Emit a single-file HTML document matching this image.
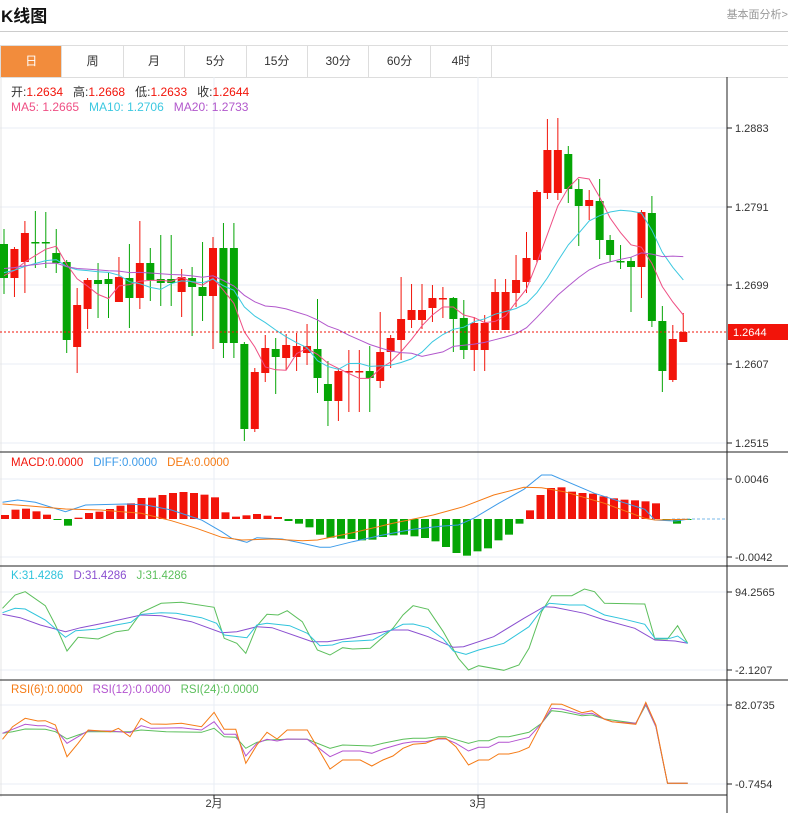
<!DOCTYPE html>
<html><head><meta charset="utf-8"><style>
body{margin:0;width:788px;height:813px;overflow:hidden;background:#fff;font-family:"Liberation Sans","Noto Sans CJK SC",sans-serif;}
#hd{position:absolute;left:1px;top:2px;font-size:17px;font-weight:bold;color:#111}
#jb{position:absolute;right:0;top:6px;font-size:11px;color:#999}
#ln{position:absolute;left:0;top:31px;width:788px;height:1px;background:#ccc}
#tabs{position:absolute;left:0;top:45px;width:787px;height:31px;border:1px solid #ddd;border-right:none;display:flex}
#tabs div{width:60.4px;border-right:1px solid #ddd;text-align:center;line-height:31px;font-size:12px;color:#333}
#tabs div.on{background:#f28c3c;color:#fff}
svg{position:absolute;left:0;top:0}
</style></head><body>
<div id="hd">K线图</div><div id="jb">基本面分析&gt;</div><div id="ln"></div>
<div id="tabs"><div class="on">日</div><div>周</div><div>月</div><div>5分</div><div>15分</div><div>30分</div><div>60分</div><div>4时</div></div>
<svg id="s" width="788" height="813" font-family="Liberation Sans,Noto Sans CJK SC,sans-serif" font-size="11"></svg>
<script>
var S=document.getElementById('s'),h='';
function L(x1,y1,x2,y2,c,w,d){h+='<line x1="'+x1+'" y1="'+y1+'" x2="'+x2+'" y2="'+y2+'" stroke="'+c+'" stroke-width="'+(w||1)+'"'+(d?' stroke-dasharray="'+d+'"':'')+'/>';}
function T(x,y,t,c,a){h+='<text x="'+x+'" y="'+y+'" fill="'+c+'"'+(a?' text-anchor="'+a+'"':'')+'>'+t+'</text>';}
function P(pts,c,sx,oy){var s=pts.map(function(p){return (p[0]/(sx||1)).toFixed(1)+','+(oy+p[1]/3).toFixed(1)}).join(' ');h+='<polyline points="'+s+'" fill="none" stroke="'+c+'" stroke-width="1"/>';}
// grids
[128,207,285,364,443,479,557,592,670,705,784].forEach(function(y){L(0,y,727,y,'#e8eef4');});
L(214,77,214,797,'#e8eef4');L(478,77,478,797,'#e8eef4');L(1,77,1,797,'#e4e4e4');
// panel separators
[452,566,680].forEach(function(y){L(0,y,788,y,'#222');});
L(0,795,727,795,'#222');L(727,77,727,813,'#222');
// candles [x,bodyTop,bodyBot,high,low,color r/g]
var C=[[244,278,229,294,'g'],[249,278,247,297,'r'],[233,262,221,293,'r'],[242,243,211,268,'g'],[242,243,212,268,'g'],[253,263,229,273,'g'],[262,340,260,353,'g'],[305,347,288,373,'r'],[280,309,278,329,'r'],[280,284,263,318,'g'],[279,284,273,318,'g'],[277,302,257,302,'r'],[278,298,244,328,'g'],[263,298,221,309,'r'],[263,280,248,301,'g'],[279,283,235,306,'g'],[279,283,235,306,'g'],[277,292,269,317,'r'],[278,287,267,336,'g'],[287,296,242,321,'g'],[248,296,237,349,'r'],[248,343,223,358,'g'],[248,343,223,358,'g'],[344,429,342,441,'g'],[372,429,368,432,'r'],[348,373,335,382,'r'],[349,357,338,394,'g'],[345,358,334,370,'r'],[346,357,333,371,'r'],[346,353,324,365,'r'],[349,378,299,393,'g'],[384,401,361,426,'g'],[371,401,368,421,'r'],[371,372,350,412,'r'],[371,372,350,412,'r'],[371,378,346,412,'g'],[352,381,312,388,'r'],[338,352,335,368,'r'],[319,340,277,360,'r'],[310,320,284,328,'r'],[310,320,284,329,'r'],[298,308,285,322,'r'],[298,299,287,318,'r'],[298,319,297,352,'g'],[318,350,300,359,'g'],[323,350,317,371,'r'],[323,350,315,371,'r'],[292,330,279,330,'r'],[292,330,279,330,'r'],[280,293,255,307,'r'],[258,282,232,293,'r'],[192,260,190,263,'r'],[150,193,119,199,'r'],[150,193,118,200,'r'],[154,189,146,203,'g'],[189,206,179,246,'g'],[200,206,190,220,'r'],[201,240,179,259,'g'],[240,255,235,262,'g'],[261,262,245,269,'g'],[261,267,257,312,'g'],[212,267,210,298,'r'],[213,321,196,327,'g'],[321,371,306,392,'g'],[339,380,325,382,'r'],[332,342,313,342,'r']];
var cl=[];
C.forEach(function(c,i){var x=4+i*10.45,col=c[4]=='r'?'#f2140a':'#05a505';
L(x,c[2],x,c[3],col);h+='<rect x="'+(x-4)+'" y="'+c[0]+'" width="8" height="'+Math.max(1.5,c[1]-c[0])+'" fill="'+col+'"/>';
cl.push(c[4]=='r'?c[0]:c[1]);});
function MA(n,col,seed){var pts=[];for(var i=0;i<cl.length;i++){var s=0,k=0;for(var j=i-n+1;j<=i;j++){s+=(j<0?seed:cl[j]);k++;}pts.push((4+i*10.45).toFixed(1)+','+(s/k).toFixed(1));}
h+='<polyline points="'+pts.join(' ')+'" fill="none" stroke="'+col+'" stroke-width="1"/>';}
MA(5,'#ef4f84',275);MA(10,'#3cc8e0',272);MA(20,'#b258cc',268);
// current price
L(0,332,727,332,'#f2140a',1,'2,2');
h+='<rect x="728" y="324" width="60" height="16" fill="#f2140a"/>';T(733,336,'1.2644','#fff');
// right axis labels
[[128,'1.2883'],[207,'1.2791'],[285,'1.2699'],[364,'1.2607'],[443,'1.2515'],[479,'0.0046'],[557,'-0.0042'],[592,'94.2565'],[670,'-2.1207'],[705,'82.0735'],[784,'-0.7454']].forEach(function(a){L(727,a[0],732,a[0],'#222');T(735,a[0]+4,a[1],'#333');});
// MACD bars
var M=[196,180,177,185,195,211,228,204,190,186,178,168,161,145,144,136,130,127,130,135,143,188,201,197,193,198,202,214,222,233,255,264,267,268,272,270,262,257,255,260,265,275,292,310,318,305,296,272,255,222,182,136,115,113,126,130,132,140,146,150,152,155,161,212,222,210];
M.forEach(function(z,i){var x=5+i*10.5,v=(208-z)/3,y0=519;var col=v>=0?'#f2140a':'#05a505';
h+='<rect x="'+(x-4)+'" y="'+(v>=0?y0-v:y0)+'" width="8" height="'+Math.max(1,Math.abs(v))+'" fill="'+col+'"/>';});
L(672,519,727,519,'#7ab8e8',1,'3,2');
var sx=1.985;
P([[5,157],[35,150],[70,157],[130,185],[170,165],[250,162],[290,165],[340,180],[400,210],[440,245],[460,265],[490,277],[510,263],[560,267],[600,280],[635,292],[655,292],[700,275],[760,255],[820,238],[880,228],[910,225],[940,205],[990,160],[1040,118],[1075,75],[1095,75],[1180,130],[1280,178],[1300,210],[1340,213],[1365,208]],'#3d9be9',sx,450);
P([[5,162],[60,168],[130,177],[200,180],[280,190],[340,212],[390,235],[440,262],[480,270],[540,267],[600,272],[630,270],[700,248],[780,220],[860,195],[920,170],[980,135],[1040,112],[1075,113],[1120,125],[1200,160],[1280,205],[1300,210],[1365,208]],'#f57a14',sx,450);
// KDJ
P([[5,130],[30,90],[50,80],[90,122],[110,180],[133,258],[155,217],[195,222],[230,200],[255,195],[280,143],[320,115],[360,112],[425,127],[445,220],[470,235],[488,265],[510,183],[530,148],[552,150],[570,137],[600,170],[630,255],[655,270],[680,248],[700,252],[735,250],[780,190],[800,150],[820,122],[850,133],[880,200],[910,280],[930,315],[950,302],[1000,316],[1030,300],[1050,250],[1075,140],[1095,92],[1135,92],[1160,72],[1180,80],[1200,115],[1280,117],[1300,222],[1325,222],[1345,182],[1365,235]],'#5cbf5c',sx,565);
P([[5,148],[40,158],[80,180],[130,200],[160,188],[220,170],[280,150],[320,152],[380,170],[440,203],[470,200],[510,185],[540,188],[620,230],[650,230],[700,218],[780,195],[810,195],[850,215],[900,247],[920,245],[980,215],[1040,160],[1080,125],[1100,127],[1160,145],[1200,165],[1260,190],[1300,225],[1340,228],[1365,235]],'#8a4fd0',sx,565);
P([[5,143],[30,130],[50,132],[90,165],[130,217],[150,197],[190,193],[230,180],[260,172],[280,148],[320,143],[350,145],[400,158],[430,175],[445,210],[490,218],[510,180],[530,175],[575,182],[610,205],[635,242],[660,240],[680,230],[740,225],[770,200],[800,178],[820,177],[850,188],[880,222],[900,258],[925,268],[950,255],[1000,235],[1050,185],[1075,135],[1090,115],[1130,120],[1160,120],[1200,150],[1240,163],[1280,178],[1300,220],[1330,220],[1345,213],[1365,235]],'#30c4dc',sx,565);
// RSI
P([[5,160],[25,155],[50,147],[90,148],[110,155],[133,177],[155,165],[175,155],[258,155],[280,150],[330,155],[400,157],[425,145],[445,170],[468,172],[488,205],[510,187],[530,180],[570,178],[610,178],[655,205],[680,195],[738,198],[760,190],[800,178],[820,175],[845,175],[870,170],[885,170],[930,190],[950,182],[970,182],[990,170],[1010,170],[1050,157],[1075,130],[1095,92],[1115,95],[1155,107],[1175,105],[1200,117],[1262,130],[1282,75],[1302,140],[1325,310],[1365,310]],'#5cbf5c',sx,680);
P([[5,160],[25,148],[50,133],[75,137],[90,137],[110,148],[133,190],[155,170],[175,152],[220,153],[258,158],[280,137],[300,145],[360,143],[400,150],[425,125],[445,163],[468,163],[488,228],[510,190],[530,178],[550,183],[570,177],[610,178],[655,230],[680,213],[715,213],[738,220],[760,207],[800,190],[820,185],[845,185],[870,177],[885,177],[905,190],[930,213],[950,202],[970,202],[990,187],[1010,187],[1050,172],[1075,130],[1095,85],[1115,87],[1155,103],[1175,100],[1200,117],[1215,125],[1262,130],[1282,72],[1302,140],[1325,310],[1365,310]],'#b454d0',sx,680);
P([[5,178],[25,140],[50,115],[75,123],[90,122],[110,135],[133,230],[155,190],[175,150],[220,155],[235,145],[258,170],[280,115],[300,132],[330,133],[360,130],[400,140],[425,97],[445,148],[468,148],[488,250],[510,195],[530,157],[550,177],[570,150],[610,150],[655,267],[680,240],[715,240],[738,258],[760,240],[780,228],[800,205],[820,193],[845,190],[870,175],[885,175],[905,200],[930,255],[950,240],[970,240],[990,222],[1010,222],[1030,215],[1050,202],[1075,130],[1095,72],[1115,73],[1155,98],[1175,92],[1200,118],[1215,125],[1262,133],[1282,67],[1302,135],[1325,310],[1365,310]],'#f57a14',sx,680);
// x labels
L(214,795,214,799,'#222');L(478,795,478,799,'#222');
T(214,807,'2月','#333','middle');T(478,807,'3月','#333','middle');
// legends
h+='<text x="11" y="96" font-size="12"><tspan fill="#333">开:</tspan><tspan fill="#f2140a">1.2634</tspan><tspan fill="#333" dx="10">高:</tspan><tspan fill="#f2140a">1.2668</tspan><tspan fill="#333" dx="10">低:</tspan><tspan fill="#f2140a">1.2633</tspan><tspan fill="#333" dx="10">收:</tspan><tspan fill="#f2140a">1.2644</tspan></text>';
h+='<text x="11" y="111" font-size="12"><tspan fill="#ef4f84">MA5: 1.2665</tspan><tspan fill="#3cc8e0" dx="10">MA10: 1.2706</tspan><tspan fill="#b258cc" dx="10">MA20: 1.2733</tspan></text>';
h+='<text x="11" y="466" font-size="11.5"><tspan fill="#f2140a">MACD:0.0000</tspan><tspan fill="#3d9be9" dx="10">DIFF:0.0000</tspan><tspan fill="#f57a14" dx="10">DEA:0.0000</tspan></text>';
h+='<text x="11" y="579" font-size="11.5"><tspan fill="#30c4dc">K:31.4286</tspan><tspan fill="#8a4fd0" dx="10">D:31.4286</tspan><tspan fill="#5cbf5c" dx="10">J:31.4286</tspan></text>';
h+='<text x="11" y="693" font-size="11.5"><tspan fill="#f57a14">RSI(6):0.0000</tspan><tspan fill="#b454d0" dx="10">RSI(12):0.0000</tspan><tspan fill="#5cbf5c" dx="10">RSI(24):0.0000</tspan></text>';
S.innerHTML=h;
</script>
</body></html>
